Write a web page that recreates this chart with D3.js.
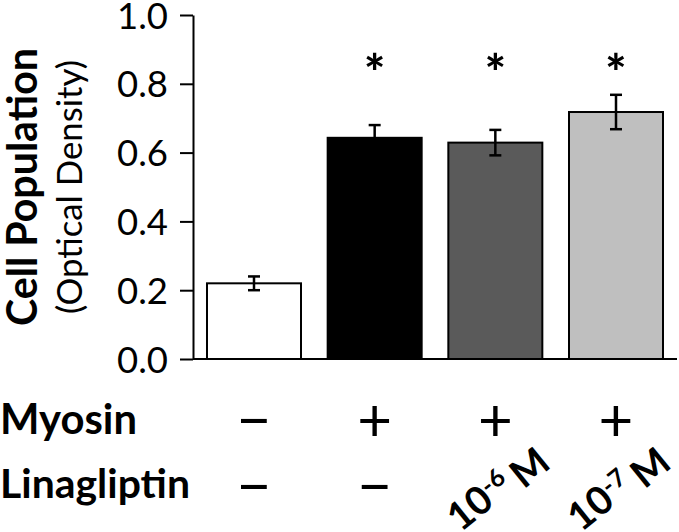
<!DOCTYPE html>
<html>
<head>
<meta charset="utf-8">
<script src="https://cdn.jsdelivr.net/npm/d3@7/dist/d3.min.js"></script>
<style>
  html, body { margin: 0; padding: 0; background: #fff; }
  svg { display: block; }
  text { font-family: Lato, "Open Sans", sans-serif; fill: #000; }
</style>
</head>
<body>
<svg id="chart" width="679" height="532"></svg>
<script>
// ---- data ----
const groups = ["control", "myosin", "lina6", "lina7"];
const values = [0.22, 0.643, 0.629, 0.718];
const errors = [0.02, 0.037, 0.037, 0.05];
const significant = [false, true, true, true];
const fills = ["#ffffff", "#000000", "#5a5a5a", "#bfbfbf"];
const myosinRow = ["\u2212", "+", "+", "+"];
const linaRow = [null, null, "-6", "-7"]; // null => minus sign
const yTicks = [0, 0.2, 0.4, 0.6, 0.8, 1.0];
const yTitle = "Cell Population";
const ySubTitle = "(Optical Density)";

const svg = d3.select("#chart");

const y = d3.scaleLinear().domain([0, 1]).range([359, 15]);
const x = d3.scaleBand().domain(groups).range([193, 677])
  .paddingInner(0.221).paddingOuter(0.116);

function fit(sel, target) {
  sel.each(function () {
    const fs = parseFloat(d3.select(this).style("font-size"));
    const w = this.getComputedTextLength();
    d3.select(this).style("font-size", (fs * target / w) + "px");
  });
  return sel;
}

// bars
svg.append("g").selectAll("rect").data(groups).join("rect")
  .attr("x", d => x(d))
  .attr("y", (d, i) => y(values[i]))
  .attr("width", x.bandwidth())
  .attr("height", (d, i) => y(0) - y(values[i]))
  .attr("fill", (d, i) => fills[i])
  .attr("stroke", "#000")
  .attr("stroke-width", 2);

// error bars
const eg = svg.append("g").attr("stroke", "#000").attr("stroke-width", 2.5).attr("fill", "none");
groups.forEach((g, i) => {
  const cx = x(g) + x.bandwidth() / 2;
  const top = y(values[i] + errors[i]);
  const bot = y(values[i] - errors[i]);
  eg.append("line").attr("x1", cx).attr("x2", cx).attr("y1", top).attr("y2", bot);
  eg.append("line").attr("x1", cx - 6).attr("x2", cx + 6).attr("y1", top).attr("y2", top);
  eg.append("line").attr("x1", cx - 6).attr("x2", cx + 6).attr("y1", bot).attr("y2", bot);
});

// asterisks
svg.append("g").selectAll("text").data(groups.filter((g, i) => significant[i])).join("text")
  .attr("x", d => x(d) + x.bandwidth() / 2)
  .attr("y", 91)
  .attr("text-anchor", "middle")
  .style("font-weight", "900")
  .style("font-size", "50px")
  .text("*");

// y axis
const yAxis = d3.axisLeft(y).tickValues(yTicks).tickFormat(d3.format(".1f"))
  .tickSize(13).tickSizeOuter(0).tickPadding(12);
const ya = svg.append("g").attr("transform", "translate(193,0)").call(yAxis);
ya.select(".domain").attr("stroke-width", 2);
ya.selectAll(".tick line").attr("stroke-width", 2);
ya.selectAll(".tick text").attr("font-family", null).attr("dy", "0.36em")
  .style("font-size", "36.5px");

// x baseline
svg.append("line").attr("x1", 193).attr("x2", 677).attr("y1", y(0)).attr("y2", y(0))
  .attr("stroke", "#000").attr("stroke-width", 2);

// y titles
const t1 = svg.append("text")
  .attr("transform", `translate(37,${(y(0) + y(1)) / 2}) rotate(-90)`)
  .attr("text-anchor", "middle")
  .style("font-weight", "bold").style("font-size", "42px")
  .text(yTitle);
fit(t1, 278);
const t2 = svg.append("text")
  .attr("transform", `translate(82,${(y(0) + y(1)) / 2}) rotate(-90)`)
  .attr("text-anchor", "middle")
  .style("font-size", "36px")
  .text(ySubTitle);
fit(t2, 254);

// row labels
const r1 = svg.append("text").attr("x", 0).attr("y", 434)
  .style("font-weight", "bold").style("font-size", "40px").text("Myosin");
fit(r1, 137);
const r2 = svg.append("text").attr("x", 0).attr("y", 498)
  .style("font-weight", "bold").style("font-size", "40px").text("Linagliptin");
fit(r2, 190);

// myosin row signs
svg.append("g").selectAll("text").data(groups).join("text")
  .attr("x", d => x(d) + x.bandwidth() / 2)
  .attr("y", 441)
  .attr("text-anchor", "middle")
  .style("font-size", "60px")
  .text((d, i) => myosinRow[i]);

// linagliptin row
groups.forEach((g, i) => {
  const cx = x(g) + x.bandwidth() / 2;
  if (linaRow[i] === null) {
    svg.append("text").attr("x", cx).attr("y", 507)
      .attr("text-anchor", "middle").style("font-size", "60px").text("\u2212");
  } else {
    const t = svg.append("text")
      .attr("transform", `translate(${cx + 1},487) rotate(-39)`)
      .attr("x", 0).attr("y", 13)
      .attr("text-anchor", "middle")
      .style("font-weight", "bold").style("font-size", "39px");
    t.append("tspan").text("10");
    t.append("tspan").attr("dy", "-0.45em").style("font-size", "25px").text(linaRow[i]);
    t.append("tspan").attr("dy", "0.45em").attr("dx", "7").text("M");
  }
});
</script>
</body>
</html>
